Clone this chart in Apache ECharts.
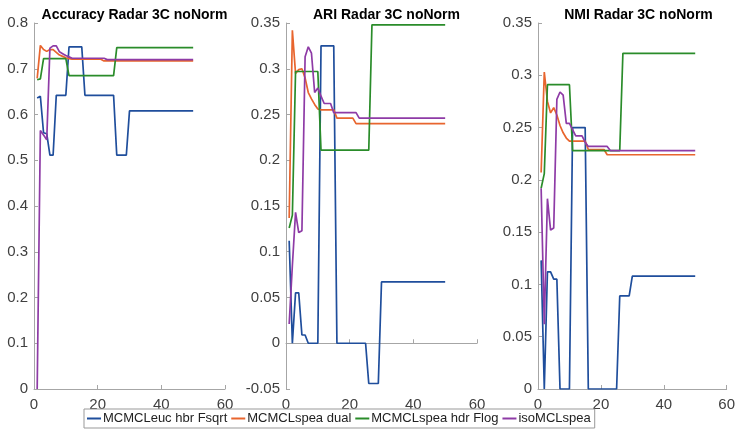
<!DOCTYPE html>
<html>
<head>
<meta charset="utf-8">
<script src="https://cdn.jsdelivr.net/npm/echarts@6/dist/echarts.min.js"></script>
<style>
  html, body { margin: 0; padding: 0; background: #fff; }
  #chart { width: 738px; height: 440px; }
</style>
</head>
<body>
<div id="chart"></div>
<script>
// iteration index (x axis)
const steps = [1,2,3,4,5,6,7,8,9,10,11,12,13,14,15,16,17,18,19,20,21,22,23,24,25,
  26,27,28,29,30,31,32,33,34,35,36,37,38,39,40,41,42,43,44,45,46,47,48,49,50]

const seriesNames = ['MCMCLeuc hbr Fsqrt', 'MCMCLspea dual', 'MCMCLspea hdr Flog', 'isoMCLspea']
const colors = ['#1F4E9C', '#E8652E', '#2A8C2A', '#8E3BA6']
const titles = ['Accuracy Radar 3C noNorm', 'ARI Radar 3C noNorm', 'NMI Radar 3C noNorm']

// Accuracy
const accBlue = [0.636,0.64,0.56,0.558,0.511,0.511,0.642,0.642,0.642,0.642,
  0.748,0.748,0.748,0.748,0.748,0.642,0.642,0.642,0.642,0.642,0.642,0.642,0.642,0.642,0.642,
  0.511,0.511,0.511,0.511,0.608,0.608,0.608,0.608,0.608,0.608,0.608,0.608,0.608,0.608,0.608,
  0.608,0.608,0.608,0.608,0.608,0.608,0.608,0.608,0.608,0.608]
const accOrange = [0.679,0.751,0.742,0.738,0.742,0.742,0.736,0.73,0.727,0.724,0.722,
  0.721,0.721,0.721,0.721,0.721,0.721,0.721,0.721,0.721,0.721,
  0.717,0.717,0.717,0.717,0.717,0.717,0.717,0.717,0.717,0.717,0.717,0.717,0.717,0.717,0.717,
  0.717,0.717,0.717,0.717,0.717,0.717,0.717,0.717,0.717,0.717,0.717,0.717,0.717,0.717]
const accGreen = [0.676,0.678,0.722,0.722,0.722,0.722,0.722,0.722,0.722,0.722,
  0.685,0.685,0.685,0.685,0.685,0.685,0.685,0.685,0.685,0.685,0.685,0.685,0.685,0.685,0.685,
  0.746,0.746,0.746,0.746,0.746,0.746,0.746,0.746,0.746,0.746,0.746,0.746,0.746,0.746,0.746,
  0.746,0.746,0.746,0.746,0.746,0.746,0.746,0.746,0.746,0.746]
const accPurple = [0,0.565,0.555,0.545,0.745,0.75,0.75,0.737,0.733,0.729,0.726,
  0.723,0.723,0.723,0.723,0.723,0.723,0.723,0.723,0.723,0.723,0.723,
  0.72,0.72,0.72,0.72,0.72,0.72,0.72,0.72,0.72,0.72,0.72,0.72,0.72,0.72,0.72,0.72,0.72,0.72,
  0.72,0.72,0.72,0.72,0.72,0.72,0.72,0.72,0.72,0.72]

// ARI
const ariBlue = [0.112,0,0.055,0.055,0.009,0.009,0,0,0,0,
  0.325,0.325,0.325,0.325,0.325,0,0,0,0,0,0,0,0,0,0,
  -0.044,-0.044,-0.044,-0.044,0.067,0.067,0.067,0.067,0.067,0.067,0.067,0.067,0.067,0.067,0.067,
  0.067,0.067,0.067,0.067,0.067,0.067,0.067,0.067,0.067,0.067]
const ariOrange = [0.137,0.342,0.295,0.299,0.3,0.29,0.274,0.267,0.261,0.256,
  0.255,0.255,0.255,0.255,0.255,0.246,0.246,0.246,0.246,0.246,0.246,
  0.24,0.24,0.24,0.24,0.24,0.24,0.24,0.24,0.24,0.24,0.24,0.24,0.24,0.24,0.24,0.24,0.24,0.24,
  0.24,0.24,0.24,0.24,0.24,0.24,0.24,0.24,0.24,0.24,0.24]
const ariGreen = [0.126,0.14,0.297,0.297,0.297,0.297,0.297,0.297,0.297,0.297,
  0.211,0.211,0.211,0.211,0.211,0.211,0.211,0.211,0.211,0.211,0.211,0.211,0.211,0.211,0.211,0.211,
  0.348,0.348,0.348,0.348,0.348,0.348,0.348,0.348,0.348,0.348,0.348,0.348,0.348,0.348,0.348,
  0.348,0.348,0.348,0.348,0.348,0.348,0.348,0.348,0.348]
const ariPurple = [0.021,0.085,0.143,0.121,0.123,0.313,0.324,0.317,0.274,0.279,0.27,
  0.262,0.262,0.262,0.252,0.252,0.252,0.252,0.252,0.252,0.252,0.252,
  0.246,0.246,0.246,0.246,0.246,0.246,0.246,0.246,0.246,0.246,0.246,0.246,0.246,0.246,0.246,
  0.246,0.246,0.246,0.246,0.246,0.246,0.246,0.246,0.246,0.246,0.246,0.246,0.246]

// NMI
const nmiBlue = [0.123,0,0.112,0.112,0.105,0.105,0,0,0,0,
  0.25,0.25,0.25,0.25,0.25,0,0,0,0,0,0,0,0,0,0,
  0.089,0.089,0.089,0.089,0.108,0.108,0.108,0.108,0.108,0.108,0.108,0.108,0.108,0.108,0.108,
  0.108,0.108,0.108,0.108,0.108,0.108,0.108,0.108,0.108,0.108]
const nmiOrange = [0.207,0.303,0.275,0.264,0.269,0.262,0.252,0.245,0.24,0.237,
  0.237,0.237,0.237,0.237,0.237,0.229,0.229,0.229,0.229,0.229,0.229,
  0.224,0.224,0.224,0.224,0.224,0.224,0.224,0.224,0.224,0.224,0.224,0.224,0.224,0.224,0.224,
  0.224,0.224,0.224,0.224,0.224,0.224,0.224,0.224,0.224,0.224,0.224,0.224,0.224,0.224]
const nmiGreen = [0.192,0.206,0.291,0.291,0.291,0.291,0.291,0.291,0.291,0.291,
  0.228,0.228,0.228,0.228,0.228,0.228,0.228,0.228,0.228,0.228,0.228,0.228,0.228,0.228,0.228,0.228,
  0.321,0.321,0.321,0.321,0.321,0.321,0.321,0.321,0.321,0.321,0.321,0.321,0.321,0.321,0.321,
  0.321,0.321,0.321,0.321,0.321,0.321,0.321,0.321,0.321]
const nmiPurple = [0.192,0.062,0.182,0.152,0.154,0.277,0.284,0.281,0.254,0.254,0.248,
  0.242,0.242,0.242,0.236,0.232,0.232,0.232,0.232,0.232,0.232,0.232,
  0.228,0.228,0.228,0.228,0.228,0.228,0.228,0.228,0.228,0.228,0.228,0.228,0.228,0.228,0.228,
  0.228,0.228,0.228,0.228,0.228,0.228,0.228,0.228,0.228,0.228,0.228,0.228,0.228]

const panels = [
  [accBlue, accOrange, accGreen, accPurple],
  [ariBlue, ariOrange, ariGreen, ariPurple],
  [nmiBlue, nmiOrange, nmiGreen, nmiPurple]
]
const yRanges = [
  { min: 0, max: 0.8, interval: 0.1 },
  { min: -0.05, max: 0.35, interval: 0.05 },
  { min: 0, max: 0.35, interval: 0.05 }
]

const font = 'Liberation Sans, Arial, sans-serif'
const gridLefts = [34, 286, 538]
const gridW = 191

let chart = echarts.init(document.getElementById('chart'))

let option = {
  animation: false,
  backgroundColor: '#fff',
  title: titles.map((t, i) => ({
    text: t,
    left: gridLefts[i] + gridW / 2,
    top: 3,
    textAlign: 'center',
    textStyle: { fontFamily: font, fontSize: 14, fontWeight: 'bold', color: '#000' }
  })),
  legend: {
    data: seriesNames,
    left: 84,
    top: 409,
    orient: 'horizontal',
    icon: 'rect',
    itemWidth: 14,
    itemHeight: 2,
    itemGap: 4,
    padding: [3, 4, 3, 3],
    borderColor: '#999',
    borderWidth: 1,
    textStyle: { fontFamily: font, fontSize: 13, color: '#222', padding: [0, 0, 0, -3] }
  },
  grid: gridLefts.map(l => ({ left: l, top: 23, width: gridW, height: 366 })),
  xAxis: gridLefts.map((l, i) => ({
    type: 'value',
    gridIndex: i,
    min: 0,
    max: 60,
    interval: 20,
    splitLine: { show: false },
    axisLine: { lineStyle: { color: '#a6a6a6', width: 1 } },
    axisTick: { inside: true, length: 4, lineStyle: { color: '#a6a6a6' } },
    axisLabel: { fontFamily: font, fontSize: 15, color: '#404040', margin: 8 }
  })),
  yAxis: yRanges.map((r, i) => ({
    type: 'value',
    gridIndex: i,
    min: r.min,
    max: r.max,
    interval: r.interval,
    splitLine: { show: false },
    axisLine: { show: true, onZero: false, lineStyle: { color: '#a6a6a6', width: 1 } },
    axisTick: { show: true, inside: true, length: 4, lineStyle: { color: '#a6a6a6' } },
    axisLabel: {
      fontFamily: font, fontSize: 15, color: '#404040', margin: 6,
      formatter: v => String(+v.toFixed(2))
    }
  })),
  series: []
}

panels.forEach((panel, p) => {
  panel.forEach((vals, k) => {
    option.series.push({
      name: seriesNames[k],
      type: 'line',
      xAxisIndex: p,
      yAxisIndex: p,
      symbol: 'none',
      color: colors[k],
      lineStyle: { width: 1.7, color: colors[k] },
      data: vals.map((v, j) => [steps[j], v])
    })
  })
})

chart.setOption(option)
</script>
</body>
</html>
